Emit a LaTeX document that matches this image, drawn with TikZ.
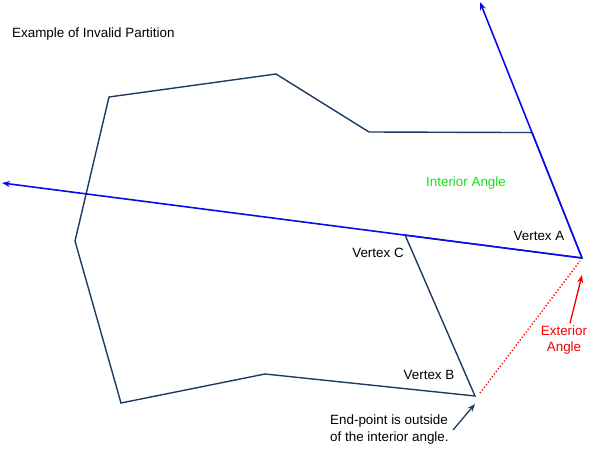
\documentclass[tikz,border=0pt]{standalone}
\usepackage{fontspec}
\setmainfont{Liberation Sans}
\usetikzlibrary{arrows.meta,positioning,calc}
\definecolor{polyblue}{RGB}{28,58,98}
\definecolor{rayblue}{RGB}{10,10,240}
\definecolor{anglegreen}{RGB}{20,225,20}
\definecolor{extred}{RGB}{245,0,0}

\begin{document}
\begin{tikzpicture}[x=1pt, y=-1pt,
  edge/.style={polyblue, line width=1.4pt},
  ray/.style={rayblue, line width=1.6pt, -{Stealth[length=8pt,width=6pt]}},
  lbl/.style={font=\fontsize{13.4}{16.5}\selectfont, inner sep=1pt},
  note/.style={lbl, align=left},
]
  \useasboundingbox (0,0) rectangle (600,473);

  % polygon corners
  \coordinate (va) at (582,258);
  \coordinate (raytop) at (480,2);
  \coordinate (rayleft) at (2,183);
  \coordinate (p1) at (109,97);
  \coordinate (p2) at (276,74);
  \coordinate (p3) at (369,132);
  \coordinate (p4) at ($(va)!0.49!(raytop)$);
  \coordinate (vc) at ($(va)!0.305!(rayleft)$);
  \coordinate (vb) at (475,396);
  \coordinate (p5) at (265,374);
  \coordinate (p6) at (121,403);
  \coordinate (p7) at (75,241);

  \draw[edge] (p1) -- (p2) -- (p3) -- (p4) -- (va) -- (vc) -- (vb) -- (p5) -- (p6) -- (p7) -- cycle;

  % rays from vertex A
  \draw[ray] (va) -- (raytop);
  \draw[ray] (va) -- (rayleft);

  \coordinate (dotb) at (480,393);
  \coordinate (dota) at (580,261);
  \draw[extred, line width=1.3pt, dotted] (dotb) -- (dota);

  % labels
  \node[lbl, anchor=west] (title) at (11,34) {Example of Invalid Partition};
  \node[lbl, text=anglegreen] (inter) at (466,183) {Interior Angle};
  \node[lbl] (laba) at (539,236) {Vertex A};
  \node[lbl] (labc) at (378,253) {Vertex C};
  \node[lbl] (labb) at (429,375) {Vertex B};
  \node[lbl, text=extred, align=center] (ext) at (564,340) {Exterior\\Angle};
  \node[note, anchor=north west] (endpt) at (329,414) {End-point is outside\\of the interior angle.};

  \coordinate (exttip) at (582,275);
  \coordinate (endtip) at (475,404);
  \draw[extred, line width=1.3pt, -{Stealth[length=8pt,width=6pt]}] ($(ext.north)+(6,-1)$) -- (exttip);
  \draw[polyblue, line width=1.3pt, -{Stealth[length=8pt,width=6pt]}] (453,430) coordinate (endstart) -- (endtip);
\end{tikzpicture}
\end{document}
